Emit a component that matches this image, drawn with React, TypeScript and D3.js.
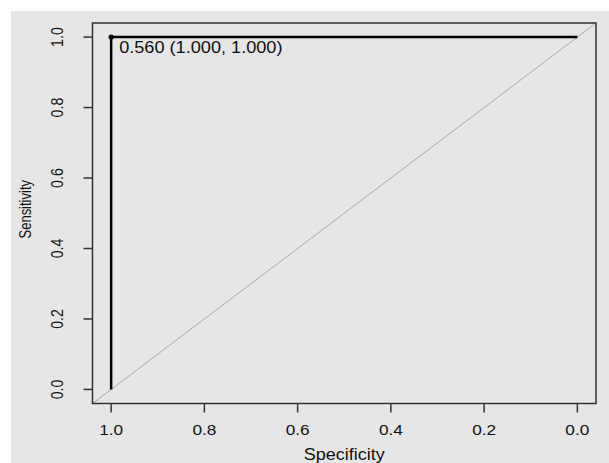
import * as d3 from 'd3';
import { useEffect, useRef } from 'react';

// ROC curve points (specificity, sensitivity)
const specificity = [1.0, 1.0, 0.0];
const sensitivity = [0.0, 1.0, 1.0];
const xTicks = [1.0, 0.8, 0.6, 0.4, 0.2, 0.0];
const yTicks = [0.0, 0.2, 0.4, 0.6, 0.8, 1.0];
const bestPoint = { spec: 1.0, sens: 1.0, threshold: 0.56 };

const App = () => {
  const svgRef = useRef<SVGSVGElement>(null);

  useEffect(() => {
    const width = 609;
    const height = 463;
    const left = 92.5;
    const right = 596;
    const top = 23;
    const bottom = 403.5;
    const font = 'Liberation Sans, Arial, sans-serif';

    const svg = d3.select(svgRef.current).attr('width', width).attr('height', height);
    svg.selectAll('*').remove();

    // panel background
    svg.append('rect').attr('x', 11).attr('y', 11).attr('width', width - 11).attr('height', height - 11).attr('fill', '#e6e6e6');

    const x = d3.scaleLinear().domain([1.04, -0.04]).range([left, right]);
    const y = d3.scaleLinear().domain([-0.04, 1.04]).range([bottom, top]);

    svg.append('clipPath').attr('id', 'plotclip')
      .append('rect').attr('x', left).attr('y', top).attr('width', right - left).attr('height', bottom - top);

    // chance line
    svg.append('line')
      .attr('clip-path', 'url(#plotclip)')
      .attr('x1', x(1.04)).attr('y1', y(-0.04))
      .attr('x2', x(-0.04)).attr('y2', y(1.04))
      .attr('stroke', '#a8a8a8').attr('stroke-width', 1);

    const line = d3.line<number>()
      .x((_, i) => x(specificity[i]))
      .y((d) => y(d));

    svg.append('path')
      .datum(sensitivity)
      .attr('d', line)
      .attr('fill', 'none')
      .attr('stroke', '#000')
      .attr('stroke-width', 2.5);

    svg.append('circle')
      .attr('cx', x(bestPoint.spec)).attr('cy', y(bestPoint.sens))
      .attr('r', 2.6).attr('fill', '#000');

    const fmt = d3.format('.3f');
    svg.append('text')
      .attr('transform', `translate(${x(bestPoint.spec) + 8},${y(bestPoint.sens) + 16}) scale(1.1,1)`)
      .attr('font-family', font)
      .attr('font-size', 16.5)
      .attr('fill', '#111')
      .text(`${fmt(bestPoint.threshold)} (${fmt(bestPoint.spec)}, ${fmt(bestPoint.sens)})`);

    // box
    svg.append('rect')
      .attr('x', left).attr('y', top).attr('width', right - left).attr('height', bottom - top)
      .attr('fill', 'none').attr('stroke', '#333').attr('stroke-width', 1.5);

    // x axis
    const xg = svg.append('g');
    xTicks.forEach((t) => {
      xg.append('line')
        .attr('x1', x(t)).attr('x2', x(t)).attr('y1', bottom).attr('y2', bottom + 9)
        .attr('stroke', '#333').attr('stroke-width', 1.5);
      xg.append('text')
        .attr('transform', `translate(${x(t)},435) scale(1.12,1)`)
        .attr('text-anchor', 'middle')
        .attr('font-family', font)
        .attr('font-size', 15.4)
        .attr('fill', '#111')
        .text(d3.format('.1f')(t));
    });
    svg.append('text')
      .attr('transform', `translate(${(left + right) / 2},460) scale(1.14,1)`)
      .attr('text-anchor', 'middle')
      .attr('font-family', font)
      .attr('font-size', 15.8)
      .attr('fill', '#111')
      .text('Specificity');

    // y axis
    const yg = svg.append('g');
    yTicks.forEach((t) => {
      yg.append('line')
        .attr('x1', left - 9).attr('x2', left).attr('y1', y(t)).attr('y2', y(t))
        .attr('stroke', '#333').attr('stroke-width', 1.5);
      yg.append('text')
        .attr('transform', `translate(63,${y(t)}) scale(1.2,1) rotate(-90)`)
        .attr('text-anchor', 'middle')
        .attr('font-family', font)
        .attr('font-size', 14.2)
        .attr('fill', '#111')
        .text(d3.format('.1f')(t));
    });
    svg.append('text')
      .attr('transform', `translate(31,${(top + bottom) / 2 - 4}) scale(1.2,1) rotate(-90)`)
      .attr('text-anchor', 'middle')
      .attr('font-family', font)
      .attr('font-size', 13)
      .attr('fill', '#111')
      .text('Sensitivity');

    return () => {
      svg.selectAll('*').remove();
    };
  }, []);

  return <svg ref={svgRef} style={{ position: 'absolute', left: 0, top: 0, background: '#fff' }} />;
};

export default App;
